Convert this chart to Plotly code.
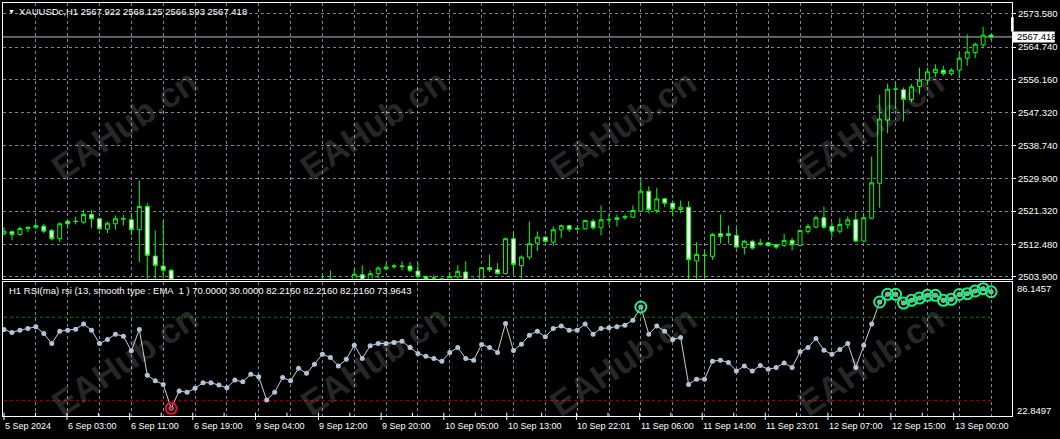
import plotly.graph_objects as go

# ---------------- data ----------------
opens = [2515.31, 2515.84, 2515.13, 2516.71, 2516.89, 2517.32, 2516.18, 2513.99, 2518.64, 2518.56,
         2518.37, 2520.41, 2519.27, 2516.53, 2517.95, 2519.20, 2519.01, 2516.37, 2522.52, 2509.39,
         2506.75, 2505.62, 2499.80, 2501.00, 2500.80, 2501.20, 2501.90, 2501.95, 2501.60, 2501.30,
         2502.20, 2502.00, 2503.00, 2502.40, 2498.50, 2499.60, 2501.50, 2501.10, 2502.60, 2502.00,
         2502.60, 2503.30, 2503.00, 2502.30, 2502.80, 2504.48, 2502.90, 2504.74, 2506.06, 2506.60,
         2506.75, 2506.75, 2505.43, 2503.95, 2503.50, 2503.40, 2503.10, 2503.85, 2505.18, 2502.80,
         2502.30, 2506.33, 2505.80, 2504.74, 2513.99, 2506.86, 2509.13, 2512.83, 2514.41, 2513.09,
         2516.37, 2517.42, 2516.60, 2516.63, 2518.64, 2516.89, 2519.00, 2519.09, 2519.54, 2519.70,
         2521.28, 2526.56, 2521.46, 2524.55, 2523.39, 2521.73, 2522.34, 2508.07, 2509.60, 2509.32,
         2515.31, 2515.31, 2514.86, 2511.62, 2513.28, 2512.44, 2512.93, 2512.40, 2512.22, 2513.54,
         2512.22, 2515.92, 2517.05, 2519.54, 2517.24, 2516.00, 2517.69, 2519.01, 2513.36, 2519.43,
         2528.68, 2545.42, 2553.60, 2553.43, 2550.86, 2554.30, 2555.99, 2558.00, 2558.63, 2557.73,
         2558.63, 2561.80, 2563.28, 2565.30, 2567.922]
highs = [2517.05, 2516.19, 2517.24, 2517.10, 2518.37, 2517.95, 2516.63, 2518.37, 2518.82, 2519.88,
         2521.65, 2521.65, 2519.54, 2518.56, 2520.14, 2520.33, 2520.59, 2529.39, 2523.39, 2516.18,
         2518.82, 2506.06, 2501.80, 2501.90, 2502.00, 2502.50, 2502.60, 2502.40, 2502.10, 2502.80,
         2502.90, 2503.30, 2503.20, 2502.60, 2500.20, 2501.90, 2502.00, 2503.00, 2503.10, 2503.30,
         2504.30, 2505.60, 2503.20, 2503.30, 2506.06, 2506.94, 2505.62, 2506.67, 2507.39, 2507.39,
         2508.00, 2507.81, 2507.54, 2504.30, 2504.48, 2503.60, 2505.18, 2506.94, 2508.00, 2503.70,
         2506.49, 2509.85, 2507.54, 2514.25, 2515.74, 2509.58, 2518.56, 2515.92, 2514.68, 2517.24,
         2517.77, 2517.69, 2517.24, 2519.01, 2519.27, 2522.79, 2520.59, 2520.41, 2520.41, 2522.79,
         2529.58, 2527.88, 2527.46, 2524.82, 2524.11, 2524.11, 2523.92, 2513.09, 2510.90, 2515.47,
         2520.41, 2517.50, 2516.89, 2513.72, 2513.72, 2513.99, 2513.20, 2512.67, 2515.31, 2514.25,
         2516.37, 2517.95, 2520.14, 2522.52, 2518.37, 2519.54, 2519.88, 2521.02, 2520.59, 2535.73,
         2552.11, 2555.09, 2555.54, 2554.03, 2554.93, 2559.32, 2559.32, 2560.21, 2559.77, 2559.16,
         2563.12, 2568.14, 2565.92, 2570.10, 2568.125]
lows = [2514.86, 2513.54, 2514.86, 2515.74, 2516.63, 2515.47, 2513.54, 2513.09, 2516.63, 2517.77,
        2517.95, 2516.79, 2516.37, 2515.47, 2516.37, 2517.50, 2514.86, 2507.81, 2500.50, 2501.00,
        2502.00, 2497.00, 2499.20, 2500.00, 2500.30, 2500.90, 2501.30, 2501.00, 2500.80, 2501.00,
        2501.50, 2501.80, 2502.10, 2497.80, 2498.00, 2499.30, 2500.60, 2500.90, 2501.60, 2501.80,
        2502.20, 2502.50, 2501.80, 2502.00, 2502.40, 2502.50, 2502.30, 2503.42, 2505.62, 2506.06,
        2505.62, 2505.18, 2503.00, 2502.50, 2502.50, 2502.40, 2502.50, 2503.42, 2502.00, 2501.50,
        2501.80, 2505.18, 2504.56, 2504.56, 2504.74, 2503.42, 2508.44, 2510.72, 2513.09, 2512.14,
        2514.15, 2515.74, 2516.18, 2516.45, 2516.37, 2514.86, 2517.69, 2517.24, 2519.01, 2519.54,
        2521.02, 2520.75, 2520.75, 2522.34, 2519.88, 2520.75, 2502.00, 2501.50, 2502.50, 2508.44,
        2512.67, 2512.67, 2511.35, 2509.85, 2511.09, 2512.22, 2511.96, 2511.24, 2511.77, 2510.90,
        2512.04, 2515.31, 2516.79, 2516.63, 2514.41, 2515.31, 2516.63, 2513.09, 2513.09, 2519.17,
        2522.18, 2541.88, 2548.33, 2545.05, 2550.07, 2552.29, 2554.75, 2556.86, 2557.12, 2557.12,
        2556.67, 2559.77, 2561.80, 2564.40, 2566.593]
closes = [2516.00, 2515.13, 2516.71, 2517.05, 2517.50, 2516.00, 2513.99, 2517.95, 2517.95, 2518.60,
          2520.41, 2519.27, 2516.63, 2518.11, 2519.27, 2519.27, 2516.37, 2522.52, 2509.58, 2506.94,
          2505.62, 2499.80, 2501.00, 2500.80, 2501.20, 2501.90, 2501.95, 2501.60, 2501.30, 2502.20,
          2502.00, 2503.00, 2502.70, 2498.50, 2499.60, 2501.50, 2501.10, 2502.60, 2502.00, 2502.60,
          2503.30, 2503.00, 2502.30, 2502.80, 2504.56, 2502.80, 2504.74, 2506.22, 2506.49, 2506.75,
          2506.70, 2505.62, 2504.03, 2503.30, 2503.60, 2503.20, 2503.95, 2505.35, 2503.00, 2502.00,
          2506.33, 2505.80, 2504.74, 2514.00, 2507.20, 2509.13, 2512.67, 2514.41, 2513.28, 2516.37,
          2517.42, 2516.53, 2516.63, 2518.82, 2516.89, 2519.01, 2519.09, 2519.54, 2519.88, 2521.46,
          2526.56, 2521.65, 2524.55, 2523.39, 2521.91, 2522.34, 2508.44, 2509.84, 2509.58, 2515.13,
          2514.60, 2514.86, 2511.77, 2513.36, 2511.51, 2512.86, 2512.14, 2511.77, 2513.54, 2512.40,
          2516.18, 2517.24, 2519.54, 2517.05, 2516.00, 2517.77, 2519.01, 2513.36, 2519.54, 2528.78,
          2545.69, 2553.61, 2553.61, 2550.86, 2554.22, 2555.99, 2558.18, 2558.89, 2557.73, 2558.63,
          2561.80, 2563.46, 2565.50, 2567.90, 2567.418]
rsi = [64.1, 62.7, 63.8, 64.6, 65.4, 62.2, 57.4, 63.3, 63.8, 64.3,
       66.7, 63.8, 57.4, 59.3, 61.9, 60.9, 53.9, 64.1, 42.2, 39.5,
       37.8, 26.3, 34.6, 34.0, 35.9, 38.6, 38.6, 37.5, 36.2, 39.9,
       39.0, 42.7, 41.4, 30.3, 34.0, 41.1, 39.5, 45.5, 43.1, 47.5,
       52.3, 50.7, 46.6, 49.8, 56.6, 50.2, 56.3, 57.4, 57.4, 57.9,
       58.5, 55.5, 52.6, 51.3, 50.2, 48.9, 53.1, 55.5, 50.2, 49.4,
       56.9, 55.5, 53.1, 67.0, 54.0, 57.1, 61.4, 63.3, 60.6, 64.6,
       65.8, 63.8, 63.8, 66.7, 61.9, 64.6, 64.9, 65.4, 66.2, 68.6,
       74.9, 61.9, 65.8, 63.3, 59.3, 60.3, 37.8, 40.3, 40.3, 48.9,
       49.4, 48.3, 44.2, 46.6, 44.2, 46.8, 45.0, 45.9, 48.1, 45.9,
       53.4, 55.5, 59.8, 54.2, 52.2, 54.5, 57.4, 45.9, 56.6, 66.7,
       77.3, 81.0, 81.0, 76.8, 78.1, 79.2, 80.5, 80.5, 78.1, 78.6,
       80.9, 81.3, 82.6, 83.7, 82.216]
level_high = 70.0
level_low = 30.0
rsi_max_label = "86.1457"
rsi_min_label = "22.8497"
price_ticks = [2573.580, 2564.740, 2556.160, 2547.320, 2538.740, 2529.900, 2521.320, 2512.480, 2503.900]
time_labels = ["5 Sep 2024", "6 Sep 03:00", "6 Sep 11:00", "6 Sep 19:00", "9 Sep 04:00", "9 Sep 12:00",
               "9 Sep 20:00", "10 Sep 05:00", "10 Sep 13:00", "10 Sep 22:01", "11 Sep 06:00",
               "11 Sep 14:00", "11 Sep 23:01", "12 Sep 07:00", "12 Sep 15:00", "13 Sep 00:00"]
header_text = "XAUUSDc,H1 2567.922 2568.125 2566.593 2567.418"
rsi_text = "H1 RSI(ma) rsi (13, smooth type : EMA  1 ) 70.0000 30.0000 82.2160 82.2160 82.2160 73.9643"
last_price = closes[-1]

# ---------------- layout helpers ----------------
W, H = 1060, 439
ML, MR, MT, MB = 3, 43, 2, 23
PW, PH = W - ML - MR, H - MT - MB
BAR_PX = 8.0
X0_PX = 4.0  # pixel of bar 0


def pxx(x):
    return (x - ML) / PW


def pyy(y):
    return (H - MB - y) / PH


n = len(closes)
xs = list(range(n))
x_range = [(ML - X0_PX) / BAR_PX, (ML + PW - X0_PX) / BAR_PX]

# time-scale tick positions (bar units) as on the MT4 time scale
time_tick_pos = [0, 7.91, 15.79, 23.71, 31.59, 39.5, 47.38, 55.25, 63.16, 71.91,
                 79.84, 87.71, 95.63, 103.5, 111.41, 119.29]
minor_pos = [(a + b) / 2 for a, b in zip(time_tick_pos[:-1], time_tick_pos[1:])]

GRID = "#778899"
GREEN = "#00FF00"
WHITE = "#FFFFFF"
FONT = "Liberation Sans"

fig = go.Figure()

fig.add_trace(go.Candlestick(
    x=xs, open=opens, high=highs, low=lows, close=closes,
    increasing=dict(line=dict(color=GREEN, width=1), fillcolor="#000000"),
    decreasing=dict(line=dict(color=GREEN, width=1), fillcolor=WHITE),
    whiskerwidth=0, xaxis="x", yaxis="y", showlegend=False, hoverinfo="skip"))

# RSI levels
fig.add_trace(go.Scatter(x=[0, n - 1], y=[level_high, level_high], mode="lines",
                         line=dict(color="#008000", width=1, dash="3px,3px"),
                         xaxis="x2", yaxis="y2", showlegend=False, hoverinfo="skip"))
fig.add_trace(go.Scatter(x=[0, n - 1], y=[level_low, level_low], mode="lines",
                         line=dict(color="#A00000", width=1, dash="3px,3px"),
                         xaxis="x2", yaxis="y2", showlegend=False, hoverinfo="skip"))

# RSI line + dots
fig.add_trace(go.Scatter(x=xs, y=rsi, mode="lines+markers",
                         line=dict(color="#D0D0D0", width=1),
                         marker=dict(size=5, color="#AFC3DA"),
                         xaxis="x2", yaxis="y2", showlegend=False, hoverinfo="skip"))

ob_x = [i for i, v in enumerate(rsi) if v > level_high]
ob_y = [rsi[i] for i in ob_x]
os_x = [i for i, v in enumerate(rsi) if v < level_low]
os_y = [rsi[i] for i in os_x]
fig.add_trace(go.Scatter(x=ob_x, y=ob_y, mode="markers",
                         marker=dict(symbol="circle-open", size=11, color="#19F07F", line=dict(width=2, color="#19F07F")),
                         xaxis="x2", yaxis="y2", showlegend=False, hoverinfo="skip"))
fig.add_trace(go.Scatter(x=ob_x, y=ob_y, mode="markers",
                         marker=dict(size=4, color="#5FC48C"),
                         xaxis="x2", yaxis="y2", showlegend=False, hoverinfo="skip"))
fig.add_trace(go.Scatter(x=os_x, y=os_y, mode="markers",
                         marker=dict(symbol="circle-open", size=11, color="#E0103A", line=dict(width=2, color="#E0103A")),
                         xaxis="x2", yaxis="y2", showlegend=False, hoverinfo="skip"))
fig.add_trace(go.Scatter(x=os_x, y=os_y, mode="markers",
                         marker=dict(size=4, color="#E0103A"),
                         xaxis="x2", yaxis="y2", showlegend=False, hoverinfo="skip"))

grid_vals = list(range(0, n, 4))
price_range = [2503.42, 2576.41]
rsi_range = [22.63, 87.08]

fig.update_layout(
    width=W, height=H,
    margin=dict(l=ML, r=MR, t=MT, b=MB, pad=0),
    paper_bgcolor="#000000", plot_bgcolor="#000000",
    font=dict(family=FONT, size=10, color=WHITE),
    hovermode=False,
    showlegend=False,
    xaxis=dict(domain=[0, 1], range=x_range, anchor="y", showgrid=True, gridcolor=GRID,
               griddash="3px,3px", gridwidth=1, tickmode="array", tickvals=grid_vals,
               showticklabels=False, ticks="", zeroline=False, showline=True, mirror=True,
               linecolor=WHITE, linewidth=1, rangeslider=dict(visible=False), fixedrange=True),
    yaxis=dict(domain=[pyy(278.3), 1], range=price_range, side="right", anchor="x",
               tickmode="array", tickvals=price_ticks, ticktext=[f"{v:.3f}" for v in price_ticks],
               showgrid=True, gridcolor=GRID, griddash="3px,3px", gridwidth=1,
               ticks="outside", ticklen=3, tickcolor=WHITE, tickfont=dict(size=9.5, color=WHITE),
               ticklabelstandoff=0,
               zeroline=False, showline=True, mirror=True, linecolor=WHITE, linewidth=1, fixedrange=True),
    xaxis2=dict(domain=[0, 1], range=x_range, anchor="y2", matches="x", showgrid=True, gridcolor=GRID,
                griddash="3px,3px", gridwidth=1, tickmode="array", tickvals=grid_vals,
                showticklabels=False, ticks="", zeroline=False, showline=True, mirror=True,
                linecolor=WHITE, linewidth=1, fixedrange=True),
    yaxis2=dict(domain=[0, pyy(281.3)], range=rsi_range, side="right", anchor="x2",
                showgrid=False, showticklabels=False, ticks="", zeroline=False,
                showline=True, mirror=True, linecolor=WHITE, linewidth=1, fixedrange=True),
)

shapes = []
# current price line
shapes.append(dict(type="line", xref="paper", yref="y", x0=0, x1=1, y0=last_price, y1=last_price,
                   line=dict(color="#C0C0C0", width=1), layer="below"))
# price label box and tab
shapes.append(dict(type="rect", xref="paper", yref="y", x0=pxx(1018), x1=pxx(1060),
                   y0=last_price - 1.45, y1=last_price + 1.45, fillcolor=WHITE, line=dict(width=0)))
shapes.append(dict(type="rect", xref="paper", yref="y", x0=pxx(1016), x1=pxx(1018.7),
                   y0=last_price + 1.45, y1=last_price + 5.2, fillcolor=WHITE, line=dict(width=0)))
# time-scale ticks
for p in time_tick_pos:
    shapes.append(dict(type="line", xref="x2", yref="paper", x0=p, x1=p, y0=pyy(412.7), y1=pyy(420),
                       line=dict(color=WHITE, width=1)))
for p in minor_pos:
    shapes.append(dict(type="line", xref="x2", yref="paper", x0=p, x1=p, y0=pyy(412.7), y1=pyy(416),
                       line=dict(color=WHITE, width=1)))
fig.update_layout(shapes=shapes)

ann = []
# watermarks
wm_centers = [(125, 124), (375, 124), (626, 124), (875, 124),
              (125, 360), (375, 360), (626, 360), (875, 360)]
for cx, cy in wm_centers:
    ann.append(dict(text="EAHub.cn", xref="paper", yref="paper", x=pxx(cx), y=pyy(cy),
                    xanchor="center", yanchor="middle", showarrow=False, textangle=-34,
                    font=dict(family=FONT, size=35, color="rgba(255,255,255,0.16)", weight="bold")))
# header
ann.append(dict(text="▼", xref="paper", yref="paper", x=pxx(6), y=pyy(11), xanchor="left", yanchor="middle",
                showarrow=False, font=dict(size=7, color=WHITE)))
ann.append(dict(text=header_text, xref="paper", yref="paper", x=pxx(17), y=pyy(11), xanchor="left",
                yanchor="middle", showarrow=False, font=dict(size=9.5, color=WHITE)))
ann.append(dict(text=rsi_text, xref="paper", yref="paper", x=pxx(7), y=pyy(290), xanchor="left",
                yanchor="middle", showarrow=False, font=dict(size=9.5, color=WHITE)))
# current price label text
ann.append(dict(text=f"{last_price:.3f}", xref="paper", yref="y", x=pxx(1020), y=last_price,
                xanchor="left", yanchor="middle", showarrow=False, font=dict(size=9.5, color="#000000")))
# RSI scale labels
ann.append(dict(text=rsi_max_label, xref="paper", yref="paper", x=pxx(1020), y=pyy(288.3), xanchor="left",
                yanchor="middle", showarrow=False, font=dict(size=9.5, color=WHITE)))
ann.append(dict(text=rsi_min_label, xref="paper", yref="paper", x=pxx(1020), y=pyy(410), xanchor="left",
                yanchor="middle", showarrow=False, font=dict(size=9.5, color=WHITE)))
# time labels
for p, t in zip(time_tick_pos, time_labels):
    ann.append(dict(text=t, xref="x2", yref="paper", x=p, y=pyy(426.5), xanchor="left", yanchor="middle",
                    xshift=-1, showarrow=False, font=dict(size=9, color=WHITE)))
fig.update_layout(annotations=ann)

fig.write_html("out.html",
               config={"displayModeBar": False, "staticPlot": True},
               post_script="document.body.style.margin='0';document.body.style.padding='0';"
                           "document.body.style.overflow='hidden';")
